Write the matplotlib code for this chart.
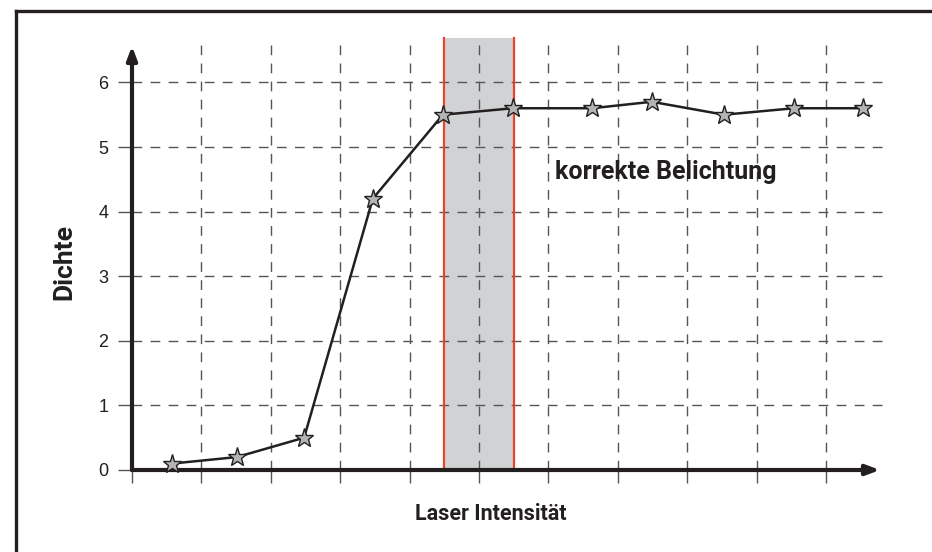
import numpy as np
import matplotlib.pyplot as plt
from matplotlib.lines import Line2D

# data (x in grid cells from the origin)
laser_x = [0.58, 1.51, 2.48, 3.47, 4.48, 5.49, 6.63, 7.49, 8.53, 9.54, 10.53]
dichte = [0.1, 0.2, 0.5, 4.2, 5.5, 5.6, 5.6, 5.7, 5.5, 5.6, 5.6]
y_ticks = [0, 1, 2, 3, 4, 5, 6]
x_grid = [1, 2, 3, 4, 5, 6, 7, 8, 9, 10]
band = (4.49, 5.5)

W, H = 932, 552
DARK = '#231f20'
GRID = '#555555'

fig = plt.figure(figsize=(W / 100, H / 100), dpi=100)

# axes: origin at px (132, 470), right edge 888, top 43
ox, oy = 132, 470
px_x, px_y = 69.4, 64.6
right, top = 888, 43
ax = fig.add_axes([ox / W, (H - oy) / H, (right - ox) / W, (oy - top) / H])
xmax = (right - ox) / px_x
ymax = (oy - top) / px_y
ax.set_xlim(0, xmax)
ax.set_ylim(0, ymax)
for s in ax.spines.values():
    s.set_visible(False)
ax.patch.set_alpha(0)

# frame (left + top only)
fig.add_artist(Line2D([16 / W, 16 / W], [0, 1 - 11 / H], color=DARK, lw=2.4))
fig.add_artist(Line2D([16 / W, 1], [1 - 11 / H, 1 - 11 / H], color=DARK, lw=2.4))

# shaded region and red borders, reaching a bit above the axes
shade_top = (oy - 38) / (oy - top)
ax.axvspan(band[0], band[1], ymin=0, ymax=shade_top, color='#d1d2d4', lw=0,
           clip_on=False, zorder=0)
for b in band:
    ax.axvline(b, ymin=0, ymax=shade_top, color='#e8432b', lw=1.6,
               clip_on=False, zorder=3)

# dashed grid
ax.hlines(y_ticks[1:], 0, xmax, colors=GRID, lw=1.0, linestyles=(0, (7, 6)), zorder=1)
ax.vlines(x_grid, 0, ymax, colors=GRID, lw=1.0, linestyles=(0, (7, 6)), zorder=1)

# ticks
ax.set_yticks(y_ticks)
ax.set_yticklabels([str(v) for v in y_ticks], fontsize=13,
                   family=['Liberation Sans', 'DejaVu Sans'], color=DARK)
ax.tick_params(axis='y', direction='out', length=10, width=1.0, color=GRID, pad=7)
ax.set_xticks([0] + x_grid)
ax.set_xticklabels([])
ax.tick_params(axis='x', direction='out', length=9, width=1.0, color=GRID)

# arrows for axes
ax.annotate('', xy=(0, (oy - 46) / px_y), xytext=(0, 0),
            arrowprops=dict(arrowstyle='-|>,head_length=0.8,head_width=0.3',
                            color=DARK, lw=3, shrinkA=0, shrinkB=0),
            annotation_clip=False, zorder=5)
ax.annotate('', xy=((880 - ox) / px_x, 0), xytext=(0, 0),
            arrowprops=dict(arrowstyle='-|>,head_length=0.8,head_width=0.3',
                            color=DARK, lw=3, shrinkA=0, shrinkB=0),
            annotation_clip=False, zorder=5)

# series
ax.plot(laser_x, dichte, color=DARK, lw=1.8, marker='*', markersize=14,
        markerfacecolor='#b4b4b4', markeredgecolor=DARK, markeredgewidth=1.0,
        zorder=6, clip_on=False)

lab = dict(fontweight='bold', family=['Roboto', 'DejaVu Sans'], color=DARK)
ax.text((555 - ox) / px_x, (oy - 172) / px_y, 'korrekte Belichtung',
        ha='left', va='center', fontsize=18, **lab)
fig.text(491 / W, 1 - 514 / H, 'Laser Intensität', ha='center', va='center',
         fontsize=15.5, **lab)
fig.text(64 / W, 1 - 262 / H, 'Dichte', ha='center', va='center', rotation=90,
         fontsize=19, **lab)

fig.savefig('out.png', dpi=100)
